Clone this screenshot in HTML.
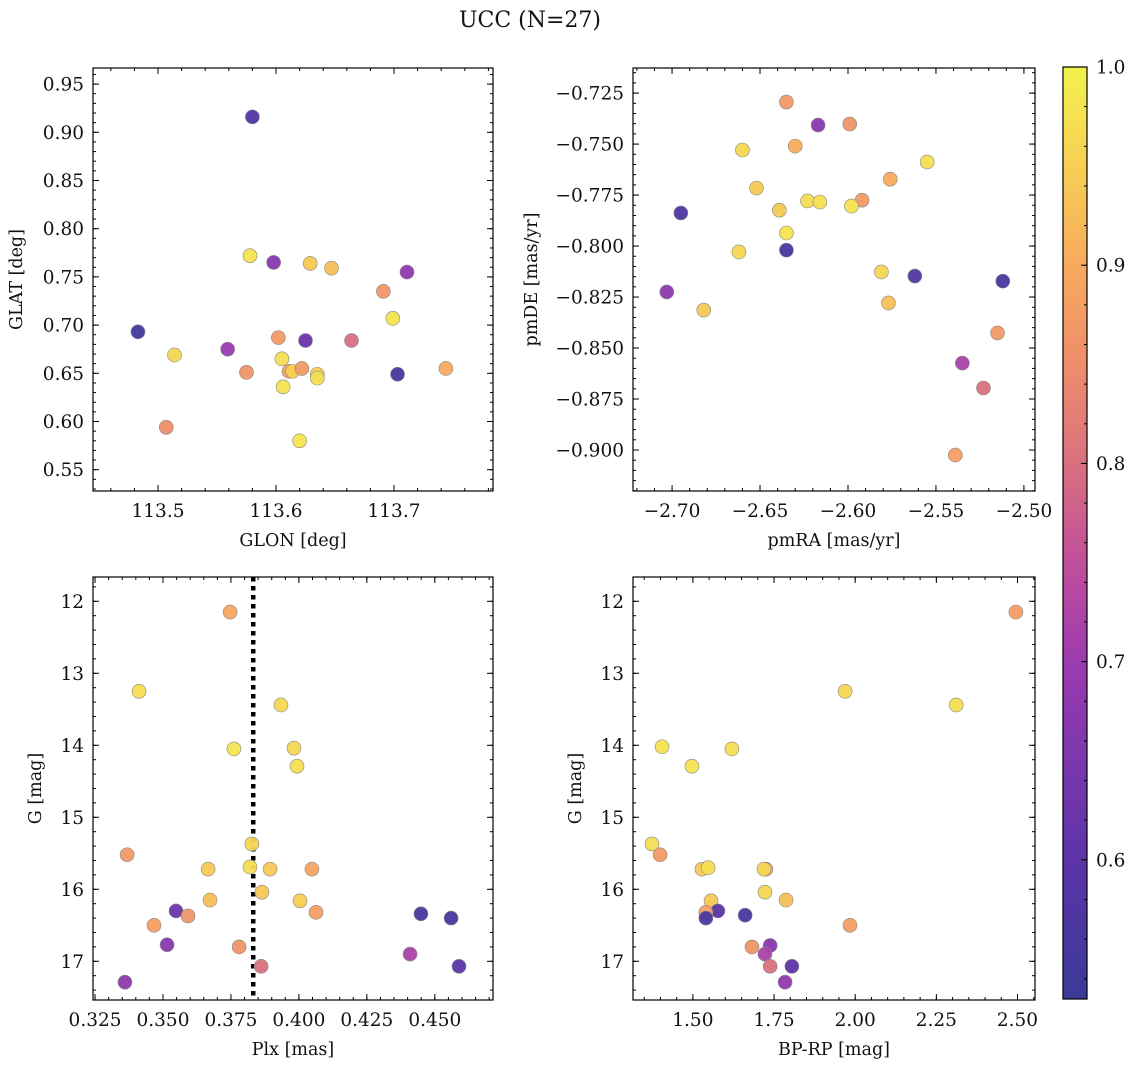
<!DOCTYPE html>
<html><head><meta charset="utf-8"><style>
html,body{margin:0;padding:0;background:#fff;}
svg text{font-family:"DejaVu Serif","Liberation Serif",serif;fill:#111;}
</style></head><body>
<svg id="fig" width="1136" height="1067" viewBox="0 0 1136 1067" xmlns="http://www.w3.org/2000/svg">
<text x="530" y="27" font-size="22" text-anchor="middle">UCC (N=27)</text>
</svg>
<script>
// ---- data ----
const glon = [113.580,113.578,113.598,113.629,113.647,113.711,113.691,113.699,113.483,113.625,113.664,113.514,113.559,113.602,113.605,113.575,113.611,113.614,113.622,113.635,113.703,113.744,113.635,113.606,113.507,113.620];
const glat = [0.916,0.772,0.765,0.764,0.759,0.755,0.735,0.707,0.693,0.684,0.684,0.669,0.675,0.687,0.665,0.651,0.652,0.652,0.655,0.649,0.649,0.655,0.645,0.636,0.594,0.580];
const probA = [0.58,0.98,0.67,0.94,0.93,0.68,0.86,0.98,0.55,0.62,0.80,0.96,0.70,0.87,0.97,0.86,0.88,0.95,0.87,0.95,0.55,0.90,0.97,0.98,0.85,0.98];

const pmra = [-2.635,-2.617,-2.599,-2.630,-2.660,-2.555,-2.576,-2.652,-2.592,-2.623,-2.616,-2.598,-2.639,-2.695,-2.635,-2.662,-2.635,-2.581,-2.562,-2.512,-2.577,-2.703,-2.682,-2.515,-2.535,-2.523,-2.539];
const pmde = [-0.7294,-0.7407,-0.7402,-0.7510,-0.7529,-0.7588,-0.7672,-0.7716,-0.7775,-0.7779,-0.7784,-0.7804,-0.7824,-0.7838,-0.7936,-0.8029,-0.8020,-0.8127,-0.8147,-0.8172,-0.8279,-0.8225,-0.8314,-0.8426,-0.8574,-0.8696,-0.9025];
const probB = [0.87,0.67,0.86,0.90,0.96,0.97,0.90,0.94,0.87,0.97,0.97,0.98,0.94,0.57,0.98,0.96,0.55,0.96,0.58,0.55,0.93,0.68,0.94,0.87,0.72,0.80,0.88];

const plx = [0.3747,0.3412,0.3934,0.3761,0.3982,0.3993,0.3827,0.3368,0.3666,0.3820,0.3894,0.4048,0.3864,0.3673,0.4004,0.3548,0.4063,0.3592,0.4449,0.4560,0.3467,0.3515,0.3780,0.4409,0.3861,0.4589,0.3360];
const gmagC = [12.15,13.25,13.44,14.05,14.04,14.29,15.37,15.52,15.72,15.69,15.72,15.72,16.04,16.15,16.16,16.30,16.32,16.37,16.34,16.40,16.50,16.77,16.80,16.90,17.07,17.07,17.29];
const probC = [0.89,0.97,0.96,0.98,0.96,0.97,0.96,0.87,0.94,0.97,0.94,0.89,0.94,0.93,0.95,0.62,0.88,0.86,0.56,0.56,0.88,0.67,0.86,0.72,0.80,0.60,0.68];
const plxMean = [0.3832];

const bprp = [2.495,1.969,2.311,1.405,1.620,1.497,1.374,1.399,1.528,1.547,1.725,1.719,1.556,1.722,1.787,1.577,1.540,1.661,1.540,1.984,1.682,1.738,1.722,1.738,1.805,1.784];
const gmagD = [12.15,13.25,13.44,14.02,14.05,14.29,15.37,15.52,15.72,15.70,15.72,15.72,16.16,16.04,16.15,16.30,16.32,16.36,16.40,16.50,16.80,16.78,16.90,17.07,17.07,17.29];
const probD = [0.88,0.96,0.97,0.98,0.97,0.98,0.97,0.87,0.94,0.97,0.89,0.96,0.94,0.96,0.93,0.60,0.88,0.56,0.56,0.88,0.86,0.67,0.72,0.80,0.60,0.68];

const cbTicks = [0.6,0.7,0.8,0.9,1.0];

// ---- helpers ----
const NS = "http://www.w3.org/2000/svg";
const svg = document.getElementById('fig');
function mk(tag, attrs, parent){const e=document.createElementNS(NS,tag);for(const k in attrs)e.setAttribute(k,attrs[k]);(parent||svg).appendChild(e);return e;}
const stops=[[0.53,[59,58,152]],[0.6,[92,52,168]],[0.7,[156,58,176]],[0.75,[192,78,155]],[0.8,[217,113,127]],[0.85,[238,141,107]],[0.9,[248,170,93]],[0.95,[247,207,83]],[1.0,[242,242,78]]];
function cmap(v){
  if(v<=stops[0][0])return 'rgb('+stops[0][1]+')';
  for(let i=1;i<stops.length;i++){if(v<=stops[i][0]){const a=stops[i-1],b=stops[i];const t=(v-a[0])/(b[0]-a[0]);const c=a[1].map((x,j)=>Math.round(x+(b[1][j]-x)*t));return 'rgb('+c+')';}}
  return 'rgb('+stops[stops.length-1][1]+')';
}
function fmt(v,d){let s=v.toFixed(d);if(v<0)s='\u2212'+s.slice(1);return s;}
const FS=18.5;

function panel(o){
  const g=mk('g',{});
  
  
  const sx=v=>o.x0+(v-o.xmin)/(o.xmax-o.xmin)*(o.x1-o.x0);
  const sy=o.yinv?(v=>o.y0+(v-o.ymin)/(o.ymax-o.ymin)*(o.y1-o.y0)):(v=>o.y1-(v-o.ymin)/(o.ymax-o.ymin)*(o.y1-o.y0));
  const tk=(v,len,isX)=>{
    if(isX){const x=sx(v);if(x<o.x0-0.5||x>o.x1+0.5)return;
      mk('line',{x1:x,x2:x,y1:o.y1,y2:o.y1-len,stroke:'#000','stroke-width':1},g);
      mk('line',{x1:x,x2:x,y1:o.y0,y2:o.y0+len,stroke:'#000','stroke-width':1},g);}
    else{const y=sy(v);if(y<o.y0-0.5||y>o.y1+0.5)return;
      mk('line',{x1:o.x0,x2:o.x0+len,y1:y,y2:y,stroke:'#000','stroke-width':1},g);
      mk('line',{x1:o.x1,x2:o.x1-len,y1:y,y2:y,stroke:'#000','stroke-width':1},g);}
  };
  const lo=Math.min(o.xmin,o.xmax),hi=Math.max(o.xmin,o.xmax);
  for(let i=Math.ceil(lo/o.xmi);i*o.xmi<=hi;i++)tk(i*o.xmi,3,true);
  const ylo=Math.min(o.ymin,o.ymax),yhi=Math.max(o.ymin,o.ymax);
  for(let i=Math.ceil(ylo/o.ymi);i*o.ymi<=yhi;i++)tk(i*o.ymi,3,false);
  for(const v of o.xt){tk(v,6,true);
    const t=mk('text',{x:sx(v),y:o.y1+26,'font-size':FS,'text-anchor':'middle'},g);t.textContent=fmt(v,o.xd);
    }
  for(const v of o.yt){tk(v,6,false);
    const t=mk('text',{x:o.x0-9,y:sy(v)+6.5,'font-size':FS,'text-anchor':'end'},g);t.textContent=fmt(v,o.yd);
    }
  mk('rect',{x:o.x0,y:o.y0,width:o.x1-o.x0,height:o.y1-o.y0,fill:'none',stroke:'#000','stroke-width':1.2},g);
  const xl=mk('text',{x:(o.x0+o.x1)/2,y:o.y1+55,'font-size':17.5,'text-anchor':'middle'},g);xl.textContent=o.xlabel;
  
  const yx=o.ylx,yy=(o.y0+o.y1)/2;
  const yl=mk('text',{x:yx,y:yy,'font-size':17.5,'text-anchor':'middle',transform:'rotate(-90 '+yx+' '+yy+')'},g);yl.textContent=o.ylabel;
  
  if(o.vline){for(const v of o.vline){const l=mk('line',{x1:sx(v),x2:sx(v),y1:o.y0,y2:o.y1,stroke:'#000','stroke-width':4.5,'stroke-dasharray':'4.5,4.5'},g);
    }}
  for(let i=0;i<o.xs.length;i++){
    const c=mk('circle',{cx:sx(o.xs[i]),cy:sy(o.ys[i]),r:7,fill:cmap(o.cs[i]),'fill-opacity':0.95,stroke:'#888','stroke-width':0.6},g);
    
    
  }
}

panel({name:'glon-glat-panel',x0:93,x1:493,y0:68,y1:491,xmin:113.4449,xmax:113.7839,ymin:0.5279,ymax:0.9667,
  xt:[113.5,113.6,113.7],xd:1,xmi:0.02,yt:[0.55,0.6,0.65,0.7,0.75,0.8,0.85,0.9,0.95],yd:2,ymi:0.01,
  xlabel:'GLON [deg]',ylabel:'GLAT [deg]',ylx:22,xs:glon,ys:glat,cs:probA});
panel({name:'pm-panel',x0:633,x1:1035,y0:68,y1:491,xmin:-2.7222,xmax:-2.4937,ymin:-0.9201,ymax:-0.7127,
  xt:[-2.70,-2.65,-2.60,-2.55,-2.50],xd:2,xmi:0.01,yt:[-0.9,-0.875,-0.85,-0.825,-0.8,-0.775,-0.75,-0.725],yd:3,ymi:0.005,
  xlabel:'pmRA [mas/yr]',ylabel:'pmDE [mas/yr]',ylx:537,xs:pmra,ys:pmde,cs:probB});
panel({name:'plx-g-panel',x0:93,x1:493,y0:577,y1:1000,xmin:0.32425,xmax:0.47141,ymin:11.6625,ymax:17.5375,yinv:true,
  xt:[0.325,0.35,0.375,0.4,0.425,0.45],xd:3,xmi:0.005,yt:[12,13,14,15,16,17],yd:0,ymi:0.2,
  xlabel:'Plx [mas]',ylabel:'G [mag]',ylx:41,xs:plx,ys:gmagC,cs:probC,vline:plxMean});
panel({name:'cmd-panel',x0:633,x1:1035,y0:577,y1:1000,xmin:1.3155,xmax:2.5539,ymin:11.6625,ymax:17.5375,yinv:true,
  xt:[1.5,1.75,2.0,2.25,2.5],xd:2,xmi:0.05,yt:[12,13,14,15,16,17],yd:0,ymi:0.2,
  xlabel:'BP-RP [mag]',ylabel:'G [mag]',ylx:581,xs:bprp,ys:gmagD,cs:probD});

// colorbar
const cb=mk('g',{});


const defs=mk('defs',{},cb);
const lg=mk('linearGradient',{id:'cbg',x1:0,y1:1,x2:0,y2:0},defs);
const cbMin=0.5298,cbMax=1.0,cbY0=67,cbY1=999,cbX0=1063,cbX1=1087;
for(let i=0;i<=20;i++){const v=cbMin+(cbMax-cbMin)*i/20;mk('stop',{offset:(i/20),'stop-color':cmap(v)},lg);}
mk('rect',{x:cbX0,y:cbY0,width:cbX1-cbX0,height:cbY1-cbY0,fill:'url(#cbg)',stroke:'#000','stroke-width':1.2},cb);
const cy=v=>cbY1-(v-cbMin)/(cbMax-cbMin)*(cbY1-cbY0);
for(let i=27;i<=50;i++){const v=i*0.02;if(v<cbMin)continue;mk('line',{x1:cbX1,x2:cbX1-3,y1:cy(v),y2:cy(v),stroke:'#000'},cb);}
for(const v of cbTicks){mk('line',{x1:cbX1,x2:cbX1-6,y1:cy(v),y2:cy(v),stroke:'#000'},cb);
  const t=mk('text',{x:cbX1+9,y:cy(v)+6.5,'font-size':FS},cb);t.textContent=v.toFixed(1);
  }
</script>
</body></html>
